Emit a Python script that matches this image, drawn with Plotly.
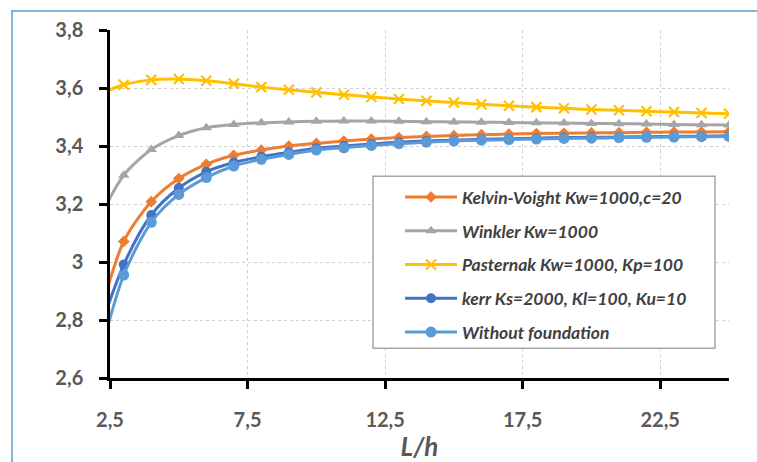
import plotly.graph_objects as go

# ---- data ----
L_h = [2, 3, 4, 5, 6, 7, 8, 9, 10, 11, 12, 13, 14, 15, 16, 17, 18, 19, 20, 21, 22, 23, 24, 25]

kelvin_voight = [2.77, 3.071, 3.208, 3.288, 3.337, 3.368, 3.386, 3.400, 3.409, 3.417, 3.424, 3.429,
                 3.433, 3.436, 3.439, 3.441, 3.443, 3.444, 3.445, 3.446, 3.447, 3.448, 3.448, 3.449]
winkler = [3.13, 3.299, 3.388, 3.436, 3.463, 3.474, 3.480, 3.483, 3.485, 3.486, 3.486, 3.485,
           3.484, 3.483, 3.482, 3.481, 3.480, 3.479, 3.478, 3.477, 3.476, 3.474, 3.473, 3.472]
pasternak = [3.575, 3.611, 3.628, 3.631, 3.625, 3.615, 3.603, 3.594, 3.585, 3.577, 3.569, 3.562,
             3.556, 3.550, 3.544, 3.539, 3.534, 3.530, 3.526, 3.523, 3.520, 3.517, 3.514, 3.511]
kerr = [2.73, 2.991, 3.162, 3.255, 3.311, 3.343, 3.363, 3.378, 3.392, 3.400, 3.407, 3.413,
        3.417, 3.420, 3.423, 3.425, 3.427, 3.429, 3.430, 3.431, 3.432, 3.433, 3.434, 3.435]
without = [2.63, 2.955, 3.137, 3.233, 3.291, 3.331, 3.354, 3.371, 3.386, 3.394, 3.402, 3.408,
           3.413, 3.417, 3.420, 3.422, 3.424, 3.426, 3.427, 3.429, 3.430, 3.431, 3.432, 3.433]

series_names = ["Kelvin-Voight Kw=1000,c=20", "Winkler Kw=1000", "Pasternak Kw=1000, Kp=100",
                "kerr Ks=2000, Kl=100, Ku=10", "Without foundation"]
series_values = [kelvin_voight, winkler, pasternak, kerr, without]
colors = ["#ED7D31", "#A5A5A5", "#FFC000", "#4472C4", "#5B9BD5"]
symbols = ["diamond", "triangle-up", "x-thin-open", "circle", "circle"]
sizes = [9, 10, 10, 10, 11]

x_ticks = [2.5, 7.5, 12.5, 17.5, 22.5]

fig = go.Figure()
for i, (name, vals) in enumerate(zip(series_names, series_values)):
    marker = dict(symbol=symbols[i], size=sizes[i], color=colors[i])
    if symbols[i] == "x-thin-open":
        marker["line"] = dict(color=colors[i], width=2.2)
    else:
        marker["line"] = dict(width=0)
    fig.add_trace(go.Scatter(
        x=L_h, y=vals, name=name, mode="lines+markers",
        line=dict(color=colors[i], width=3, shape="spline", smoothing=0.8),
        marker=marker, legendgroup="g%d" % i,
    ))

tickfont = dict(family="Lato", size=20, color="#595959", weight="bold")

fig.update_layout(
    width=757, height=462,
    margin=dict(l=110, r=28, t=30, b=82),
    paper_bgcolor="white", plot_bgcolor="white",
    separators=", ",
    showlegend=True,
    legend=dict(
        x=(400 - 110) / 619, y=(380 - 180) / 350, xanchor="left", yanchor="top",
        bgcolor="rgba(0,0,0,0)", borderwidth=0,
        font=dict(family="Lato", size=17.5, color="#404040", weight="bold", style="italic"),
        tracegroupgap=8, itemwidth=52,
    ),
    xaxis=dict(
        range=[2.5, 25], tickmode="array", tickvals=x_ticks,
        showgrid=True, gridcolor="#d0d0d0", griddash="dot", gridwidth=1,
        showline=True, linecolor="black", linewidth=2.5,
        ticks="outside", ticklen=8, tickwidth=2.5, tickcolor="black",
        tickfont=tickfont, ticklabelstandoff=14, zeroline=False,
        title=dict(text="L/h", font=dict(family="Lato", size=26, color="#595959",
                                         weight="bold", style="italic"), standoff=1),
    ),
    yaxis=dict(
        range=[2.6, 3.8], dtick=0.2, tick0=2.6,
        showgrid=True, gridcolor="#d0d0d0", griddash="dot", gridwidth=1,
        showline=True, linecolor="black", linewidth=2.5,
        ticks="outside", ticklen=8, tickwidth=2.5, tickcolor="black",
        tickfont=tickfont, ticklabelstandoff=12, zeroline=False,
    ),
    shapes=[
        dict(type="rect", xref="paper", yref="paper",
             x0=(373 - 110) / 619, x1=(715 - 110) / 619,
             y0=(380 - 350) / 350, y1=(380 - 177) / 350,
             fillcolor="white", line=dict(color="#A6A6A6", width=1.5), layer="above"),
        dict(type="rect", xref="paper", yref="paper",
             x0=(12 - 110) / 619, x1=(770 - 110) / 619,
             y0=(380 - 480) / 350, y1=(380 - 11) / 350,
             fillcolor="rgba(0,0,0,0)", line=dict(color="#5B9BD5", width=1.5), layer="above"),
    ],
)

fig.write_html("out.html")
